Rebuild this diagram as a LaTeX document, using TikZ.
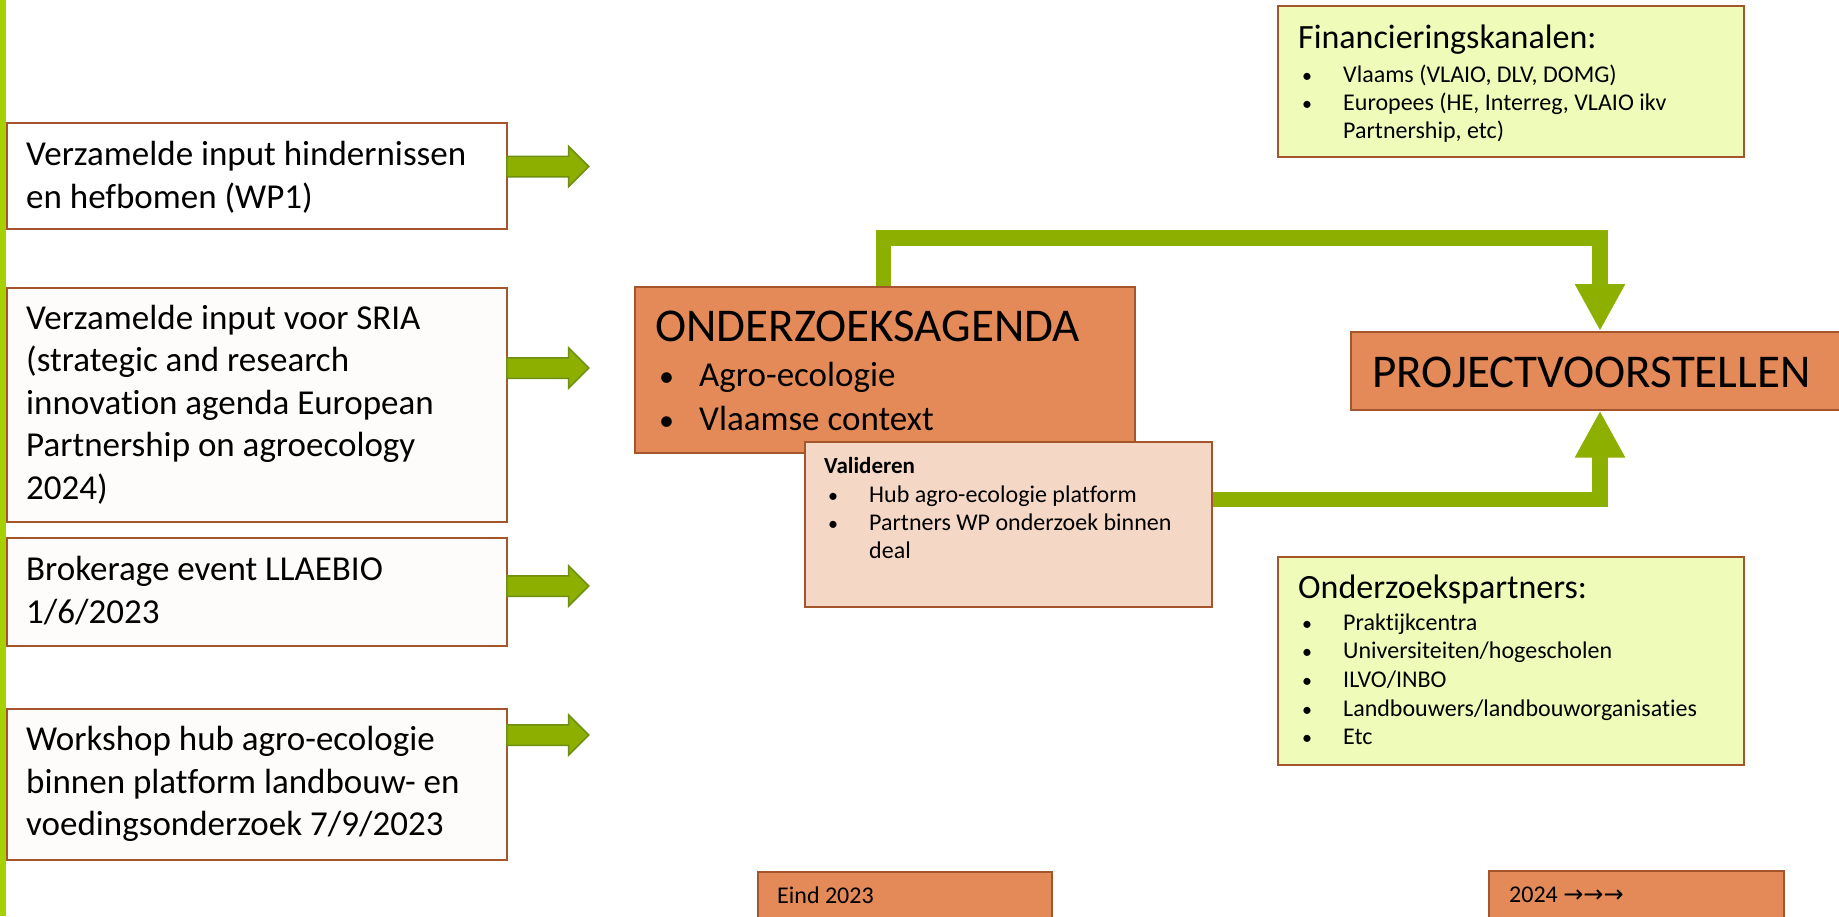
\documentclass[tikz,border=0pt]{standalone}
\usepackage{fontspec}
\setmainfont{Carlito}[Ligatures=NoCommon]
\newfontfamily\symfont{DejaVu Sans}
\usetikzlibrary{arrows.meta,shapes.arrows}
\definecolor{leftbar}{HTML}{A6D000}
\definecolor{boxline}{HTML}{A5552B}
\definecolor{orangefill}{HTML}{E48A58}
\definecolor{peach}{HTML}{F5D7C5}
\definecolor{lime}{HTML}{EFFCB9}
\definecolor{conngreen}{HTML}{8DB000}
\definecolor{arrowline}{HTML}{6F8E12}
\definecolor{offwhite}{HTML}{FDFCFA}
\pgfdeclarelayer{bg}
\pgfdeclarelayer{paper}
\pgfsetlayers{paper,bg,main}
\tikzset{
  box/.style={rectangle, draw=boxline, line width=1.6pt, inner sep=0pt, anchor=north west},
  whitebox/.style={box, fill=offwhite},
  orangebox/.style={box, fill=orangefill},
  peachbox/.style={box, fill=peach},
  limebox/.style={box, fill=lime},
  blockarrow/.style={single arrow, draw=arrowline, fill=conngreen, line width=1.5pt,
    minimum height=82pt, minimum width=39pt, single arrow head extend=10pt,
    single arrow head indent=0pt, inner xsep=0pt, inner ysep=9.5pt,
    text height=0pt, text depth=0pt, anchor=tail},
  conn/.style={draw=conngreen, line width=15.5pt, -{Triangle[width=47pt,length=47pt]}},
  tbig/.style={font=\fontsize{47}{56}\selectfont, anchor=base west, inner sep=0pt},
  tmid/.style={font=\fontsize{35}{42}\selectfont, anchor=base west, inner sep=0pt},
  ttitle/.style={font=\fontsize{34}{41}\selectfont, anchor=base west, inner sep=0pt},
  tsmall/.style={font=\fontsize{24}{29}\selectfont, anchor=base west, inner sep=0pt},
  tsmallb/.style={font=\fontsize{23}{28}\selectfont\bfseries, anchor=base west, inner sep=0pt},
  bulmid/.style={font=\fontsize{30}{36}\selectfont, anchor=base west, inner sep=0pt},
  bulsmall/.style={font=\fontsize{20}{24}\selectfont, anchor=base west, inner sep=0pt},
}
\begin{document}
\begin{tikzpicture}[x=1pt,y=-1pt]
\useasboundingbox (0,0) rectangle (1839,916);
\clip (0,0) rectangle (1839,916);
\begin{pgfonlayer}{paper}
\fill[white] (0,0) rectangle (1839,916);
\fill[leftbar] (0,0) rectangle (6,916);
\end{pgfonlayer}

% left input boxes
\node[whitebox, fill=white, minimum width=500pt, minimum height=106pt] (b1) at (6,122) {};
\node[whitebox, minimum width=500pt, minimum height=234pt] (b2) at (6,287) {};
\node[whitebox, minimum width=500pt, minimum height=108pt] (b3) at (6,537) {};
\node[whitebox, minimum width=500pt, minimum height=151pt] (b4) at (6,708) {};

\node[tmid] (b1l1) at (26,165) {Verzamelde input hindernissen};
\node[tmid] (b1l2) at (26,208) {en hefbomen (WP1)};

\node[tmid] (b2l1) at (26,329) {Verzamelde input voor SRIA};
\node[tmid] (b2l2) at (26,371.5) {(strategic and research};
\node[tmid] (b2l3) at (26,414) {innovation agenda European};
\node[tmid] (b2l4) at (26,456.5) {Partnership on agroecology};
\node[tmid] (b2l5) at (26,499) {2024)};

\node[tmid] (b3l1) at (26,580) {Brokerage event LLAEBIO};
\node[tmid] (b3l2) at (26,623) {1/6/2023};

\node[tmid] (b4l1) at (26,750) {Workshop hub agro-ecologie};
\node[tmid] (b4l2) at (26,793) {binnen platform landbouw- en};
\node[tmid] (b4l3) at (26,835) {voedingsonderzoek 7/9/2023};

% block arrows
\node[blockarrow] (a1) at (506,166.5) {};
\node[blockarrow] (a2) at (506,368) {};
\node[blockarrow] (a3) at (506,586) {};
\node[blockarrow] (a4) at (506,735) {};

% central boxes
\node[orangebox, minimum width=500pt, minimum height=166pt] (ag) at (634,286) {};
\node[tbig] (agt) at (655,341) {ONDERZOEKSAGENDA};
\node[bulmid] (agb1) at (659,386) {•};
\node[tmid] (agi1) at (699,386) {Agro-ecologie};
\node[bulmid] (agb2) at (659,430) {•};
\node[tmid] (agi2) at (699,430) {Vlaamse context};

\node[peachbox, minimum width=407pt, minimum height=165pt] (val) at (804,441) {};
\node[tsmallb] (valt) at (824,473) {Valideren};
\node[bulsmall] (valb1) at (828,502) {•};
\node[tsmall] (vali1) at (869,502) {Hub agro-ecologie platform};
\node[bulsmall] (valb2) at (828,530) {•};
\node[tsmall] (vali2) at (869,530) {Partners WP onderzoek binnen};
\node[tsmall] (vali3) at (869,558) {deal};

% project box
\node[orangebox, minimum width=520pt, minimum height=78pt] (proj) at (1350,331) {};
\node[tbig] (projt) at (1372,387) {PROJECTVOORSTELLEN};

% financing box
\node[limebox, minimum width=466pt, minimum height=151pt] (fin) at (1277,5) {};
\node[ttitle] (fint) at (1298,48) {Financieringskanalen:};
\node[bulsmall] (finb1) at (1302,82) {•};
\node[tsmall] (fini1) at (1343,82) {Vlaams (VLAIO, DLV, DOMG)};
\node[bulsmall] (finb2) at (1302,110) {•};
\node[tsmall] (fini2) at (1343,110) {Europees (HE, Interreg, VLAIO ikv};
\node[tsmall] (fini3) at (1343,138) {Partnership, etc)};

% research partners box
\node[limebox, minimum width=466pt, minimum height=208pt] (ozp) at (1277,556) {};
\node[ttitle] (ozpt) at (1298,598) {Onderzoekspartners:};
\node[bulsmall] (ozpb1) at (1302,630) {•};
\node[tsmall] (ozpi1) at (1343,630) {Praktijkcentra};
\node[bulsmall] (ozpb2) at (1302,658.7) {•};
\node[tsmall] (ozpi2) at (1343,658.7) {Universiteiten/hogescholen};
\node[bulsmall] (ozpb3) at (1302,687.4) {•};
\node[tsmall] (ozpi3) at (1343,687.4) {ILVO/INBO};
\node[bulsmall] (ozpb4) at (1302,716.1) {•};
\node[tsmall] (ozpi4) at (1343,716.1) {Landbouwers/landbouworganisaties};
\node[bulsmall] (ozpb5) at (1302,744.8) {•};
\node[tsmall] (ozpi5) at (1343,744.8) {Etc};

% timeline boxes
\node[orangebox, minimum width=294pt, minimum height=80pt] (eind) at (757,871) {};
\node[tsmall] (eindt) at (777,903) {Eind 2023};
\node[orangebox, minimum width=295pt, minimum height=80pt] (y24) at (1488,870) {};
\node[tsmall] (y24t) at (1509,902) {2024 {\symfont →→→}};

% connectors
\begin{pgfonlayer}{bg}
\draw[conn] ([xshift=249.5pt]ag.north west) -- ++(0,-48) -| ([xshift=250pt]proj.north west);
\draw[conn] ([yshift=-58.5pt]val.north east) -| ([xshift=250pt]proj.south west);
\end{pgfonlayer}
\end{tikzpicture}
\end{document}
